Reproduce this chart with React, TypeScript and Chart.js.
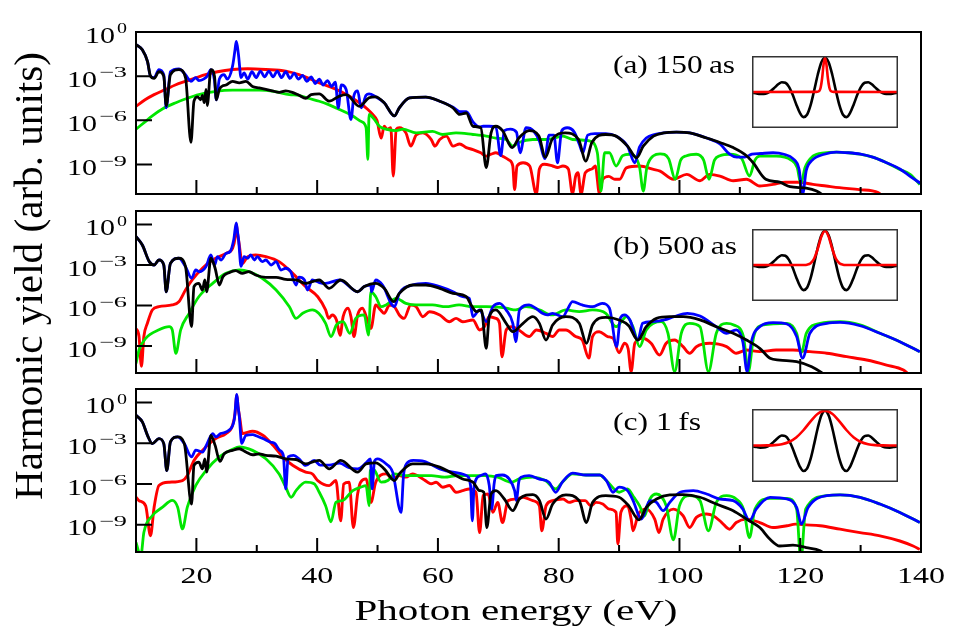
import React, { useEffect, useRef } from "react";
import { Chart, registerables } from "chart.js";
Chart.register(...registerables);

type P = [number, number];

// Photon energy (eV) vs log10(harmonic yield)
const X_MINOR_TICKS = [20, 30, 40, 50, 60, 70, 80, 90, 100, 110, 120, 130];
const X_LABELS = [20, 40, 60, 80, 100, 120, 140];
const Y_TICK_EXP = [0, -3, -6, -9];

// ---------- panel (a) 150 as ----------
const A_BLACK: P[] = [[10,-0.86],[11.05,-1.2],[11.9,-2.0],[12.4,-3.0],[13.0,-3.15],[13.8,-2.7],[14.6,-3.0],[15.0,-5.0],[15.7,-2.9],[17.1,-2.55],[18.2,-3.1],[19.1,-7.5],[19.6,-4.7],[20.2,-4.4],[20.7,-4.6],[21.0,-4.3],[21.3,-4.8],[21.6,-3.9],[21.8,-5.0],[22.4,-2.55],[23.0,-3.0],[23.3,-4.6],[23.8,-3.9],[24.2,-3.7],[24.9,-3.6],[26.0,-3.35],[27.1,-3.45],[28.2,-3.35],[29.3,-3.7],[30.4,-3.8],[31.5,-3.9],[32.6,-4.0],[33.7,-4.1],[34.8,-4.0],[35.9,-4.1],[37.0,-4.3],[38.1,-4.5],[39.0,-4.25],[40.35,-4.2],[42.0,-4.7],[43.7,-4.35],[44.8,-4.25],[47.0,-5.05],[48.6,-4.47],[49.7,-4.4],[51.1,-4.8],[52.8,-5.7],[53.6,-5.15],[55.3,-4.47],[58.0,-4.42],[60.3,-4.7],[62.5,-5.15],[63.6,-5.6],[64.7,-5.5],[65.8,-6.4],[67.1,-6.5],[68.0,-9.2],[68.8,-6.85],[69.6,-6.4],[70.7,-6.7],[72.3,-7.85],[73.4,-7.2],[75.1,-6.7],[76.7,-7.05],[77.8,-8.5],[78.9,-7.3],[81.1,-6.85],[83.3,-7.3],[84.5,-8.77],[85.5,-7.5],[87.8,-6.96],[89.5,-7.07],[91.4,-7.75],[92.9,-8.54],[94.0,-7.75],[95.7,-7.07],[97.4,-6.85],[99.5,-6.8],[101.7,-6.85],[104.5,-7.2],[106.7,-7.5],[108.9,-7.85],[111.1,-8.4],[112.2,-8.88],[114.3,-10.0],[116.6,-10.2],[118.3,-10.5],[121,-10.6],[122.7,-10.8],[124.5,-11.3]];
const A_BLUE: P[] = [[10,-0.86],[11.05,-1.2],[11.9,-2.0],[12.4,-3.0],[13.0,-3.1],[13.8,-2.55],[14.6,-2.9],[15.0,-5.15],[15.7,-2.7],[17.1,-2.5],[18.2,-2.9],[19.1,-3.35],[19.9,-3.1],[20.4,-3.3],[21.2,-3.2],[21.8,-3.0],[22.4,-2.55],[23.0,-3.3],[23.3,-4.6],[23.8,-3.2],[24.6,-2.9],[25.1,-3.2],[26.0,-2.3],[26.4,-1.2],[26.6,-0.63],[26.8,-1.0],[27.0,-1.65],[27.4,-3.1],[27.9,-2.78],[28.5,-3.2],[29.2,-2.7],[29.9,-3.1],[30.6,-2.65],[31.3,-3.05],[32.0,-2.65],[32.7,-3.05],[33.4,-2.65],[34.1,-3.1],[34.8,-2.7],[35.5,-3.15],[36.2,-2.8],[36.9,-3.2],[37.6,-2.95],[38.3,-3.35],[39.0,-3.05],[39.7,-3.5],[40.35,-3.2],[41.0,-3.6],[41.7,-3.3],[42.4,-3.7],[43.0,-3.4],[43.5,-5.15],[44.0,-3.6],[44.8,-3.9],[45.6,-5.94],[46.1,-4.3],[46.7,-4.0],[47.3,-5.15],[48.1,-4.3],[48.6,-4.2],[49.7,-4.4],[51.1,-4.8],[52.8,-5.7],[53.6,-5.15],[55.3,-4.47],[58.0,-4.42],[60.3,-4.7],[62.5,-5.1],[63.6,-5.4],[64.7,-5.4],[65.8,-6.1],[66.9,-6.45],[67.5,-6.4],[68.5,-6.4],[69.6,-6.45],[70.4,-8.4],[71.0,-6.7],[72.0,-6.6],[73.0,-6.8],[73.6,-8.2],[74.6,-6.5],[75.8,-6.7],[76.8,-7.4],[77.7,-8.6],[78.4,-7.0],[79.2,-7.0],[79.8,-8.88],[80.5,-6.7],[81.4,-6.5],[82.6,-6.8],[83.4,-7.6],[84.0,-8.2],[84.8,-7.0],[86.0,-6.9],[87.8,-6.9],[89.5,-7.07],[91.4,-7.75],[92.6,-8.88],[93.4,-7.8],[94.5,-7.2],[96.0,-6.95],[97.4,-6.85],[99.5,-6.8],[101.7,-6.85],[104.5,-7.2],[106.7,-7.6],[108.3,-8.3],[109.5,-8.5],[110.8,-8.5],[112.0,-8.3],[113.5,-8.25],[115.5,-8.2],[117.3,-8.3],[118.8,-8.6],[119.8,-9.3],[120.4,-11.0],[121.0,-9.4],[122.0,-8.7],[124.0,-8.3],[126.0,-8.15],[128.0,-8.2],[130.0,-8.3],[132.0,-8.5],[134.3,-8.88],[136.5,-9.3],[138.2,-9.8],[140,-10.3]];
const A_GREEN: P[] = [[10,-6.6],[11.5,-6.1],[12.7,-5.7],[14.5,-5.2],[16.6,-4.8],[18.5,-4.5],[20.4,-4.25],[23,-4.05],[26,-3.95],[30.4,-3.95],[33,-4.05],[35.4,-4.25],[37.0,-4.3],[38.5,-4.5],[40.35,-4.7],[42,-4.95],[43.7,-5.26],[45.9,-5.7],[47.4,-6.1],[48.1,-6.5],[48.4,-8.65],[48.6,-5.6],[49.4,-5.9],[50.3,-6.4],[51.4,-6.6],[53.1,-6.7],[54.2,-6.6],[56.4,-6.85],[59.1,-6.75],[60.8,-6.96],[63.0,-6.85],[65.8,-6.96],[68.0,-7.07],[69.6,-7.2],[71.3,-7.3],[72.4,-7.75],[73.4,-7.5],[75.7,-7.3],[78,-7.3],[80.7,-7.07],[82.3,-7.3],[85.1,-7.4],[86.4,-8.2],[87.0,-10.8],[87.6,-8.2],[88.4,-8.2],[89.5,-9.1],[90.6,-8.4],[91.7,-8.3],[92.5,-8.4],[93.4,-9.2],[94.0,-10.8],[94.6,-9.2],[95.7,-8.4],[96.8,-8.27],[98.2,-8.6],[99.3,-10.0],[100.2,-8.7],[101.2,-8.4],[102.8,-8.3],[104.0,-8.7],[104.9,-10.0],[105.8,-8.7],[106.7,-8.4],[108.3,-8.3],[110.3,-8.6],[111.6,-9.78],[112.5,-8.7],[113.3,-8.43],[116,-8.43],[118.5,-8.7],[119.5,-9.2],[120.1,-10.3],[120.8,-9.2],[122.1,-8.43],[124,-8.2],[126,-8.16],[128,-8.2],[129.9,-8.3],[132,-8.5],[134.3,-8.88],[136.3,-9.3],[138.2,-9.67],[139.8,-10.35]];
const A_RED: P[] = [[10,-5.05],[11.5,-4.6],[13,-4.25],[14.9,-3.9],[16.5,-3.6],[18.2,-3.35],[20,-3.1],[21.5,-2.9],[23.5,-2.7],[26,-2.55],[28.5,-2.5],[31.5,-2.55],[34.8,-2.66],[37,-2.9],[40.35,-3.45],[43.7,-4.0],[47.0,-4.8],[48.4,-5.26],[49.2,-5.6],[49.9,-6.0],[50.6,-7.2],[51.1,-6.4],[51.6,-6.6],[52.2,-6.5],[52.6,-9.78],[53.1,-6.6],[53.6,-6.5],[54.7,-6.85],[55.5,-7.75],[56.4,-7.0],[57.5,-6.85],[58.9,-7.3],[59.5,-7.75],[60.3,-7.3],[61.4,-7.07],[62.5,-7.75],[63.6,-7.6],[64.7,-7.85],[65.8,-7.98],[67.1,-8.2],[68.0,-8.43],[68.8,-8.3],[69.6,-8.2],[70.7,-8.43],[71.8,-8.7],[72.4,-9.1],[72.7,-10.7],[73.1,-9.1],[74.1,-8.88],[75.2,-9.1],[76.3,-11.0],[76.8,-9.3],[77.6,-8.98],[79.0,-9.1],[79.8,-9.2],[80.7,-9.1],[81.6,-9.3],[82.3,-11.0],[82.8,-9.8],[83.2,-9.56],[83.7,-11.0],[84.4,-9.56],[85.5,-9.3],[86.1,-9.1],[86.4,-10.0],[86.7,-11.0],[87.3,-10.0],[88.3,-9.8],[89.3,-10.0],[90.1,-10.0],[91.2,-9.22],[93.4,-9.1],[95.7,-9.33],[96.8,-9.45],[99,-10.0],[101.2,-9.67],[103.4,-10.1],[105.0,-9.67],[106.7,-9.78],[108.9,-10.1],[111.1,-10.0],[113.3,-10.46],[115.5,-10.35],[117.6,-10.2],[119.8,-10.2],[122.1,-10.35],[124.3,-10.46],[126.5,-10.57],[129.8,-10.7],[132.9,-10.9],[134,-11.3]];

// ---------- panel (b) 500 as ----------
const B_BLACK: P[] = [[10,-0.9],[11.05,-1.52],[12.2,-2.75],[13.0,-3.0],[13.8,-2.63],[14.6,-3.0],[15.0,-4.98],[15.7,-2.88],[17.1,-2.5],[18.2,-3.12],[19.2,-7.57],[19.6,-4.6],[20.4,-4.36],[21.0,-4.85],[21.4,-4.11],[21.7,-4.98],[22.4,-2.5],[23.1,-3.24],[23.8,-4.48],[24.4,-3.86],[25.4,-3.57],[26.5,-3.42],[27.6,-3.62],[28.7,-3.49],[29.8,-3.74],[31.5,-3.91],[33.2,-3.91],[34.8,-4.06],[36.5,-4.11],[38.1,-4.36],[39.2,-4.23],[40.35,-4.11],[42.0,-4.73],[43.9,-4.11],[46.7,-4.98],[47.8,-4.6],[49.7,-4.36],[51.1,-4.73],[52.7,-5.72],[53.6,-5.1],[55.8,-4.48],[58.0,-4.48],[60.3,-4.73],[62.5,-5.1],[64.7,-5.35],[65.5,-5.96],[66.4,-6.46],[67.2,-6.33],[68.0,-9.17],[68.5,-6.83],[69.6,-6.33],[71.3,-7.32],[72.4,-7.94],[74.1,-7.32],[75.7,-6.83],[76.8,-7.32],[77.9,-8.56],[79.0,-7.44],[81.2,-6.83],[83.4,-7.32],[84.6,-8.8],[85.6,-7.44],[87.8,-6.88],[90.0,-7.07],[91.6,-7.5],[93.1,-8.56],[94.5,-7.57],[96.2,-6.95],[98.4,-6.83],[100.6,-6.83],[103.4,-7.07],[106.1,-7.57],[108.9,-8.06],[111.1,-8.56],[113.3,-9.17],[115.0,-9.91],[116.6,-10.04],[119.4,-10.16],[121.9,-10.53],[123.3,-10.9],[124.5,-11.3]];
const B_BLUE: P[] = [[10,-0.9],[11.05,-1.52],[12.2,-2.75],[13.0,-3.0],[13.8,-2.63],[14.6,-3.0],[15.0,-4.98],[15.7,-2.88],[17.1,-2.5],[18.2,-3.12],[19.2,-3.98],[19.9,-3.37],[20.5,-3.5],[21.6,-3.12],[22.4,-2.26],[23.0,-3.0],[23.5,-2.38],[24.1,-2.63],[24.9,-2.14],[25.6,-2.0],[26.2,-1.1],[26.6,0.12],[26.8,-0.5],[27.0,-1.2],[27.4,-3.1],[27.9,-2.38],[28.5,-2.5],[29.0,-2.26],[29.6,-2.63],[30.1,-2.38],[30.9,-2.75],[31.5,-2.63],[32.4,-3.0],[33.2,-2.75],[34.0,-3.37],[34.8,-3.24],[35.6,-3.49],[36.5,-4.48],[37.0,-3.9],[37.9,-4.11],[38.4,-4.85],[39.2,-4.11],[40.35,-4.3],[41.4,-4.36],[43.7,-4.11],[46.7,-4.98],[47.8,-4.6],[48.9,-4.48],[49.0,-4.98],[49.7,-4.11],[50.8,-4.48],[52.8,-6.09],[53.6,-5.1],[55.8,-4.48],[58.0,-4.36],[60.3,-4.6],[62.5,-4.98],[64.1,-5.35],[65.2,-5.47],[65.8,-6.83],[66.9,-6.33],[68.0,-7.2],[69.1,-6.09],[70.2,-5.84],[71.3,-6.33],[72.4,-7.32],[72.9,-8.68],[73.5,-6.33],[75.1,-5.96],[76.2,-6.2],[77.3,-6.58],[78.1,-6.7],[79.0,-6.58],[80.7,-6.83],[81.4,-6.33],[82.3,-5.72],[83.9,-5.96],[85.6,-6.09],[87.2,-5.84],[88.4,-6.2],[89.6,-9.05],[90.2,-6.95],[90.9,-6.7],[91.8,-7.07],[93.1,-8.56],[93.9,-7.32],[95.5,-7.2],[97.5,-7.07],[99.1,-6.83],[101.3,-6.58],[103.4,-6.78],[106.1,-7.57],[107.8,-8.06],[109.4,-7.8],[110.5,-8.7],[111.2,-10.9],[111.9,-8.7],[113.3,-7.57],[115.5,-7.27],[117.8,-7.37],[119.4,-8.3],[120.4,-9.9],[121.6,-8.06],[124.4,-7.32],[126.6,-7.25],[129.9,-7.5],[133.2,-8.06],[136.5,-8.68],[139.8,-9.42]];
const B_GREEN: P[] = [[10,-10.3],[10.5,-9.3],[11.6,-8.43],[13.8,-7.8],[15.5,-7.57],[16.0,-7.8],[16.6,-9.54],[17.4,-7.8],[18.8,-6.58],[20.4,-5.35],[22.7,-4.36],[24.9,-3.62],[27.1,-3.37],[28.7,-3.49],[30.9,-3.98],[33.2,-4.85],[35.4,-6.09],[36.5,-6.95],[37.6,-6.58],[39.2,-6.33],[40.3,-6.6],[41.4,-7.32],[42.3,-8.3],[43.2,-7.44],[44.3,-7.2],[45.4,-8.06],[46.4,-6.95],[47.8,-6.7],[48.5,-8.2],[48.9,-4.98],[49.7,-5.35],[50.6,-6.09],[51.4,-5.96],[53.1,-5.47],[54.7,-5.84],[56.4,-5.96],[59.1,-5.96],[61.3,-6.09],[63.5,-5.96],[65.8,-6.09],[68.0,-6.09],[71.3,-6.2],[72.9,-6.33],[74.6,-6.09],[76.8,-6.33],[78.9,-6.7],[81.2,-6.33],[83.4,-6.45],[85.6,-6.33],[87.8,-6.58],[89.5,-7.57],[90.6,-7.07],[91.2,-6.83],[92.3,-7.57],[93.4,-9.05],[94.5,-7.81],[95.7,-7.32],[97.0,-7.2],[98.1,-8.06],[99.2,-10.9],[100.3,-8.06],[101.7,-7.32],[103.4,-7.57],[104.8,-10.9],[106.1,-8.06],[107.8,-7.32],[109.0,-7.44],[110.6,-8.3],[111.4,-10.9],[112.3,-8.3],[113.9,-7.44],[117.8,-7.32],[119.4,-8.06],[120.2,-9.5],[121.0,-8.06],[123.3,-7.32],[126.6,-7.2],[129.9,-7.44],[133.2,-8.06],[136.5,-8.68],[139.8,-9.42]];
const B_RED: P[] = [[10,-7.7],[10.5,-8.3],[10.9,-10.5],[11.3,-8.3],[11.9,-7.3],[12.7,-6.33],[13.8,-6.09],[16.0,-5.96],[17.1,-5.72],[18.2,-4.85],[19.3,-4.11],[21.0,-3.24],[22.7,-2.63],[24.9,-2.14],[26.0,-1.75],[26.4,-1.0],[26.6,0.05],[26.8,-0.6],[27.1,-1.5],[27.6,-2.88],[28.5,-2.38],[29.8,-2.26],[31.5,-2.38],[33.7,-2.75],[35.9,-3.6],[38.1,-4.6],[40.1,-5.35],[41.4,-6.33],[41.9,-6.95],[42.5,-6.7],[43.2,-7.07],[43.8,-8.2],[44.3,-6.83],[45.1,-6.2],[45.6,-6.83],[46.1,-8.3],[46.7,-6.7],[47.5,-6.2],[48.4,-7.2],[48.9,-7.7],[49.7,-5.96],[50.5,-6.33],[51.1,-6.58],[52.0,-5.96],[52.8,-6.09],[53.6,-6.7],[54.4,-6.95],[55.5,-5.96],[56.4,-6.09],[57.5,-6.83],[58.6,-6.46],[60.3,-6.7],[61.9,-7.2],[63.0,-6.95],[64.1,-7.2],[65.8,-7.07],[66.9,-7.81],[67.7,-7.57],[68.5,-6.83],[69.6,-6.95],[70.2,-7.32],[70.6,-9.8],[71.3,-7.81],[72.2,-7.57],[73.4,-7.81],[75.1,-8.3],[76.3,-7.81],[77.9,-8.06],[79.0,-8.3],[80.1,-7.81],[81.2,-7.81],[82.8,-8.3],[83.9,-8.56],[85.0,-9.9],[85.6,-8.3],[86.7,-7.94],[88.1,-8.3],[89.0,-8.43],[90.0,-9.5],[90.9,-8.8],[91.5,-9.2],[92.0,-10.9],[92.6,-8.8],[93.9,-8.43],[95.3,-8.8],[96.7,-9.67],[97.8,-8.8],[99.2,-8.56],[100.6,-9.05],[101.7,-9.54],[102.8,-9.05],[105.0,-8.8],[107.8,-9.05],[109.4,-9.54],[111.1,-9.3],[113.3,-9.42],[116.0,-9.3],[118.8,-9.3],[121.6,-9.42],[124.4,-9.54],[127.7,-9.79],[131.0,-10.04],[134.3,-10.41],[137.1,-10.78],[138.2,-11.15],[139.5,-11.3]];

// ---------- panel (c) 1 fs ----------
const C_BLACK: P[] = [[10,-0.93],[11.05,-1.42],[11.9,-2.41],[12.7,-3.02],[13.8,-2.65],[14.6,-3.02],[15.1,-5.0],[15.7,-2.9],[16.9,-2.53],[18.0,-3.02],[19.2,-7.47],[19.6,-4.63],[20.4,-4.38],[21.0,-4.88],[21.4,-4.14],[21.7,-5.12],[22.4,-2.41],[23.1,-3.15],[23.9,-4.33],[24.6,-3.77],[26.0,-3.52],[27.1,-3.4],[28.2,-3.64],[29.3,-3.84],[30.4,-3.77],[31.5,-3.89],[33.2,-3.94],[34.8,-4.14],[36.5,-4.19],[38.1,-4.51],[39.5,-4.33],[40.35,-4.26],[42.0,-4.88],[43.9,-4.26],[46.7,-5.12],[48.1,-4.51],[49.7,-4.44],[51.1,-4.88],[52.8,-5.74],[53.6,-5.25],[55.8,-4.51],[58.0,-4.51],[60.3,-4.75],[62.5,-5.25],[64.1,-5.62],[65.8,-5.86],[66.9,-6.48],[67.6,-6.6],[68.1,-9.2],[68.8,-6.73],[69.6,-6.48],[71.0,-7.1],[72.4,-7.96],[73.5,-7.1],[75.7,-6.78],[76.8,-7.2],[77.9,-8.58],[79.0,-7.47],[81.2,-6.8],[83.4,-7.22],[84.6,-8.83],[85.6,-7.35],[87.8,-6.85],[90.0,-6.97],[91.6,-7.6],[93.3,-8.63],[94.5,-7.72],[96.2,-7.1],[98.4,-6.8],[100.6,-6.78],[103.4,-6.97],[106.1,-7.47],[108.9,-7.96],[111.1,-8.58],[113.3,-9.2],[115.0,-10.06],[116.6,-10.56],[118.8,-10.5],[121.0,-10.68],[123.3,-10.9],[124.5,-11.3]];
const C_BLUE: P[] = [[10,-0.93],[11.05,-1.42],[11.9,-2.41],[12.7,-3.02],[13.8,-2.65],[14.6,-3.02],[15.1,-5.0],[15.7,-2.9],[16.9,-2.53],[18.0,-3.02],[19.2,-4.0],[19.9,-3.5],[21.0,-3.64],[21.8,-3.0],[22.7,-2.28],[23.2,-2.53],[24.0,-2.28],[25.4,-2.04],[26.3,-1.17],[26.7,0.6],[26.9,-0.3],[27.1,-1.0],[27.5,-3.0],[28.2,-2.41],[29.3,-2.36],[30.1,-2.48],[31.0,-2.65],[32.2,-2.9],[33.0,-3.02],[33.8,-3.52],[34.4,-3.89],[34.8,-6.36],[35.2,-4.0],[36.1,-3.89],[37.0,-4.14],[38.1,-4.63],[39.5,-4.26],[40.5,-4.6],[42.0,-4.6],[43.7,-4.45],[45.3,-4.8],[46.7,-4.88],[48.1,-4.44],[48.8,-4.14],[49.1,-6.36],[49.5,-4.3],[50.0,-4.14],[51.4,-4.51],[52.5,-5.12],[53.9,-8.08],[54.3,-5.37],[54.8,-4.51],[55.9,-4.26],[57.7,-4.33],[60.3,-4.88],[62.5,-5.12],[64.7,-5.37],[65.4,-6.1],[65.7,-8.7],[66.0,-6.1],[67.1,-5.37],[67.9,-5.25],[68.5,-6.1],[68.9,-7.84],[69.3,-6.0],[69.6,-5.37],[70.7,-5.33],[71.8,-5.62],[72.7,-6.48],[73.0,-7.22],[73.4,-5.8],[73.8,-5.49],[75.1,-5.37],[76.7,-5.62],[78.4,-5.86],[79.5,-6.6],[80.6,-5.86],[82.3,-5.2],[84.5,-5.33],[86.8,-5.33],[87.9,-5.74],[89.0,-6.6],[90.0,-6.23],[91.4,-6.48],[92.3,-7.2],[93.7,-8.58],[95.1,-7.22],[96.2,-7.35],[97.3,-7.96],[98.4,-7.35],[100.1,-6.6],[102.3,-6.48],[104.5,-6.73],[106.7,-7.1],[108.9,-7.22],[110.5,-7.84],[111.6,-8.7],[112.7,-7.84],[115.0,-6.98],[117.8,-7.1],[119.4,-7.72],[120.2,-8.95],[121.3,-7.72],[124.4,-6.85],[126.6,-6.8],[129.9,-6.98],[133.2,-7.47],[136.5,-8.09],[139.8,-8.83]];
const C_GREEN: P[] = [[10,-10.3],[10.8,-11.3],[11.3,-9.57],[12.7,-8.33],[14.4,-7.7],[16.0,-7.2],[16.9,-7.7],[17.7,-9.3],[18.5,-7.7],[19.9,-6.1],[21.6,-5.0],[23.8,-4.0],[26.0,-3.44],[27.1,-3.27],[29.3,-3.52],[31.5,-4.14],[33.7,-5.25],[34.8,-6.23],[35.7,-6.97],[36.5,-6.48],[38.1,-5.86],[39.5,-5.98],[40.35,-6.6],[41.4,-7.59],[42.3,-8.78],[43.1,-7.35],[44.2,-7.22],[45.9,-6.48],[47.2,-6.23],[48.1,-6.11],[48.6,-7.6],[48.8,-5.0],[49.3,-4.88],[50.6,-5.86],[51.7,-5.74],[52.8,-5.25],[54.5,-5.37],[56.2,-5.37],[58.9,-5.37],[61.1,-5.49],[63.3,-5.37],[65.5,-5.37],[67.7,-5.37],[69.9,-5.49],[72.1,-5.86],[73.5,-5.62],[75.7,-5.49],[77.8,-5.74],[79.5,-6.36],[80.6,-5.86],[82.3,-5.25],[84.5,-5.33],[86.8,-5.33],[87.9,-5.74],[90.0,-6.6],[91.4,-6.36],[92.5,-7.0],[93.4,-7.6],[94.2,-8.35],[95.1,-7.1],[96.2,-6.73],[97.8,-7.6],[99.0,-10.1],[100.0,-7.6],[101.7,-6.85],[103.4,-7.22],[104.8,-9.44],[106.1,-7.35],[107.8,-6.85],[109.4,-7.1],[110.6,-7.84],[111.6,-9.94],[112.5,-7.84],[115.0,-7.05],[117.8,-7.05],[119.4,-7.84],[120.1,-11.67],[120.9,-7.84],[124.4,-6.85],[126.6,-6.8],[129.9,-6.98],[133.2,-7.47],[136.5,-8.09],[139.8,-8.83]];
const C_RED: P[] = [[10,-6.97],[10.5,-7.22],[11.6,-7.6],[12.4,-9.8],[13.0,-7.7],[13.8,-6.1],[15.5,-5.86],[17.7,-5.74],[18.5,-5.37],[19.6,-4.26],[21.0,-3.52],[23.2,-2.65],[24.9,-2.28],[26.0,-1.67],[26.4,-0.8],[26.7,0.55],[26.9,-0.3],[27.2,-1.17],[27.6,-2.28],[29.3,-2.11],[31.0,-2.41],[32.7,-3.15],[34.3,-4.0],[36.0,-4.63],[38.1,-5.12],[39.2,-5.25],[40.1,-5.74],[42.0,-6.11],[43.1,-5.74],[43.9,-8.7],[44.4,-6.0],[45.3,-5.86],[46.0,-9.2],[46.7,-6.73],[47.2,-5.86],[48.1,-5.62],[48.9,-7.35],[49.7,-5.86],[51.4,-5.25],[52.5,-5.62],[53.6,-5.37],[54.7,-5.49],[55.8,-5.25],[57.5,-5.62],[58.3,-5.86],[58.9,-5.98],[59.7,-5.86],[60.8,-6.23],[61.9,-6.1],[63.0,-6.6],[64.1,-6.48],[65.2,-6.36],[66.3,-6.6],[66.9,-9.57],[67.5,-6.85],[68.3,-6.73],[69.1,-8.08],[69.9,-7.35],[70.7,-8.83],[71.6,-7.22],[72.9,-7.1],[74.1,-6.97],[75.7,-7.22],[76.8,-7.6],[77.2,-9.44],[77.9,-7.6],[79.0,-7.22],[80.7,-7.1],[81.7,-7.35],[82.8,-7.22],[84.4,-7.22],[85.3,-7.6],[86.2,-7.35],[87.3,-7.47],[88.4,-7.84],[89.5,-8.08],[89.8,-10.4],[90.3,-8.08],[91.4,-7.6],[92.0,-8.58],[92.3,-9.44],[93.2,-8.2],[94.5,-7.84],[95.9,-8.58],[96.6,-9.57],[97.3,-8.58],[99.0,-7.84],[100.6,-8.33],[101.7,-9.2],[102.8,-8.45],[104.5,-8.2],[105.6,-8.33],[107.0,-8.83],[108.3,-9.32],[109.4,-8.83],[111.1,-8.58],[113.3,-8.83],[115.5,-9.2],[117.8,-9.07],[119.2,-8.95],[121.0,-9.0],[123.3,-9.07],[126.6,-9.32],[129.9,-9.57],[133.2,-9.81],[136.5,-10.19],[138.7,-10.56],[139.8,-10.8]];

// ---------- insets (time axis, normalized field) ----------
const INSET_T = [-1,-0.95,-0.9,-0.85,-0.8,-0.75,-0.7,-0.65,-0.6,-0.55,-0.5,-0.45,-0.4,-0.35,-0.3,-0.25,-0.2,-0.15,-0.1,-0.05,0,0.05,0.1,0.15,0.2,0.25,0.3,0.35,0.4,0.45,0.5,0.55,0.6,0.65,0.7,0.75,0.8,0.85,0.9,0.95,1];
const INSET_BLACK = [-0.025,-0.045,-0.06,-0.058,-0.028,0.037,0.128,0.224,0.286,0.27,0.149,-0.076,-0.354,-0.604,-0.731,-0.663,-0.384,0.047,0.511,0.867,1,0.867,0.511,0.047,-0.384,-0.663,-0.731,-0.604,-0.354,-0.076,0.149,0.27,0.286,0.224,0.128,0.037,-0.028,-0.058,-0.06,-0.045,-0.025];
const INSET_RED_A: P[] = [[-1,0],[-0.12,0.003],[-0.08,0.027],[-0.06,0.13],[-0.04,0.4],[-0.02,0.8],[0,1],[0.02,0.8],[0.04,0.4],[0.06,0.13],[0.08,0.027],[0.12,0.003],[1,0]];
const INSET_RED_B: P[] = [[-1,0],[-0.35,0.0002],[-0.3,0.0012],[-0.25,0.0096],[-0.2,0.051],[-0.15,0.188],[-0.1,0.476],[-0.05,0.83],[0,1],[0.05,0.83],[0.1,0.476],[0.15,0.188],[0.2,0.051],[0.25,0.0096],[0.3,0.0012],[0.35,0.0002],[1,0]];
const INSET_RED_C: P[] = [[-1,0.0005],[-0.9,0.0006],[-0.8,0.0028],[-0.7,0.011],[-0.6,0.037],[-0.5,0.1],[-0.4,0.23],[-0.3,0.438],[-0.2,0.693],[-0.1,0.912],[0,1],[0.1,0.912],[0.2,0.693],[0.3,0.438],[0.4,0.23],[0.5,0.1],[0.6,0.037],[0.7,0.011],[0.8,0.0028],[0.9,0.0006],[1,0.0005]];

const COLORS = ["#000000", "#0000ff", "#00e600", "#ff0000"];
const FONT = '"Liberation Serif", "DejaVu Serif", serif';

function fitText(ctx: CanvasRenderingContext2D, text: string, x: number, y: number, size: number, width: number, align: "left" | "right" | "center") {
  ctx.font = `${size}px ${FONT}`;
  const w = ctx.measureText(text).width;
  const s = width / w;
  ctx.save();
  ctx.translate(x, y);
  ctx.scale(s, 1);
  ctx.textAlign = "left";
  ctx.textBaseline = "alphabetic";
  const off = align === "right" ? -w : align === "center" ? -w / 2 : 0;
  ctx.fillText(text, off, 0);
  ctx.restore();
}

type Panel = {
  top: number; height: number; padTop: number; padBottom: number; yMax: number;
  series: P[][]; label: string; labelX: number; labelY: number; labelW: number; isBottom: boolean;
};

const PANELS: Panel[] = [
  { top: 0, height: 200, padTop: 32, padBottom: 6, yMax: 1, series: [A_BLACK, A_BLUE, A_GREEN, A_RED], label: "(a) 150\u2009as", labelX: 613, labelY: 73, labelW: 122, isBottom: false },
  { top: 200, height: 180, padTop: 11, padBottom: 7, yMax: 10, series: [B_BLACK, B_BLUE, B_GREEN, B_RED], label: "(b) 500\u2009as", labelX: 613, labelY: 254, labelW: 124, isBottom: false },
  { top: 0, height: 640, padTop: 389, padBottom: 88, yMax: 10, series: [C_BLACK, C_BLUE, C_GREEN, C_RED], label: "(c) 1\u2009fs", labelX: 613, labelY: 430, labelW: 88, isBottom: true },
];

function decoPlugin(p: Panel) {
  return {
    id: "deco",
    afterDraw(chart: any) {
      const { ctx, chartArea: ca, scales } = chart;
      const xs = scales.x, ys = scales.y;
      ctx.save();
      ctx.strokeStyle = "#000";
      ctx.fillStyle = "#000";
      ctx.lineWidth = 2;
      ctx.strokeRect(ca.left, ca.top, ca.right - ca.left, ca.bottom - ca.top);
      ctx.beginPath();
      for (const ex of Y_TICK_EXP) {
        const py = ys.getPixelForValue(Math.pow(10, ex));
        ctx.moveTo(ca.left, py);
        ctx.lineTo(ca.left + 16, py);
      }
      for (const e of X_MINOR_TICKS) {
        const px = xs.getPixelForValue(e);
        const len = e % 20 === 0 ? 14 : 7;
        ctx.moveTo(px, ca.bottom);
        ctx.lineTo(px, ca.bottom - len);
      }
      ctx.stroke();
      // y tick labels 10^n
      for (const ex of Y_TICK_EXP) {
        const py = ys.getPixelForValue(Math.pow(10, ex));
        const expStr = ex === 0 ? "0" : "\u2212" + String(-ex);
        const expW = ex === 0 ? 10 : 28;
        const right = 127;
        fitText(ctx, expStr, right, py + 1, 15, expW, "right");
        fitText(ctx, "10", right - expW - 2, py + 10.5, 23, 30, "right");
      }
      // panel label
      fitText(ctx, p.label, p.labelX, p.labelY - p.top, 25, p.labelW, "left");
      if (p.isBottom) {
        for (const e of X_LABELS) {
          const px = xs.getPixelForValue(e);
          const s = String(e);
          fitText(ctx, s, px, 583, 24, 16 * s.length, "center");
        }
        fitText(ctx, "Photon energy (eV)", 516, 620, 30, 323, "center");
        ctx.save();
        ctx.translate(42, 276);
        ctx.rotate(-Math.PI / 2);
        fitText(ctx, "Harmonic yield (arb. units)", 0, 0, 40, 448, "center");
        ctx.restore();
      }
      ctx.restore();
    },
  };
}

function spectrumConfig(p: Panel): any {
  return {
    type: "line",
    data: {
      datasets: p.series.map((s, i) => ({
        data: s.map(([e, l]) => ({ x: e, y: Math.pow(10, l) })),
        borderColor: COLORS[i],
        borderWidth: i === 3 ? 2.9 : 2.8,
        pointRadius: 0,
        fill: false,
        cubicInterpolationMode: "monotone",
      })),
    },
    options: {
      responsive: false,
      animation: false,
      devicePixelRatio: 1,
      events: [],
      layout: { padding: { left: 136, right: 40, top: p.padTop, bottom: p.padBottom } },
      plugins: { legend: { display: false }, tooltip: { enabled: false } },
      scales: {
        x: { type: "linear", min: 10, max: 140, display: false },
        y: { type: "logarithmic", min: 1e-11, max: p.yMax, display: false },
      },
    },
    plugins: [decoPlugin(p)],
  };
}

const insetPlugin = {
  id: "insetFrame",
  beforeDraw(chart: any) {
    const { ctx, width, height } = chart;
    ctx.save();
    ctx.fillStyle = "#fff";
    ctx.fillRect(0, 0, width, height);
    ctx.restore();
  },
  afterDraw(chart: any) {
    const { ctx, width, height } = chart;
    ctx.save();
    ctx.strokeStyle = "#333";
    ctx.lineWidth = 1.5;
    ctx.strokeRect(0.75, 0.75, width - 1.5, height - 1.5);
    ctx.restore();
  },
};

function insetConfig(red: P[]): any {
  return {
    type: "line",
    data: {
      datasets: [
        { data: red.map(([x, y]) => ({ x, y })), borderColor: "#ff0000", borderWidth: 2.6, pointRadius: 0, cubicInterpolationMode: "monotone" },
        { data: INSET_T.map((t, i) => ({ x: t, y: INSET_BLACK[i] })), borderColor: "#000", borderWidth: 2.6, pointRadius: 0, cubicInterpolationMode: "monotone" },
      ],
    },
    options: {
      responsive: false,
      animation: false,
      devicePixelRatio: 1,
      events: [],
      layout: { padding: { left: 1, right: 1, top: 1, bottom: 1 } },
      plugins: { legend: { display: false }, tooltip: { enabled: false } },
      scales: {
        x: { type: "linear", min: -1, max: 1, display: false },
        y: { type: "linear", min: -1.02, max: 1.02, display: false },
      },
    },
    plugins: [insetPlugin],
  };
}

function ChartCanvas({ make, left, top, width, height }: { make: () => any; left: number; top: number; width: number; height: number }) {
  const ref = useRef<HTMLCanvasElement>(null);
  useEffect(() => {
    const chart = new Chart(ref.current as HTMLCanvasElement, make());
    return () => chart.destroy();
  }, []);
  return <canvas ref={ref} width={width} height={height} style={{ position: "absolute", left, top, width, height, display: "block" }} />;
}

export default function App() {
  return (
    <div style={{ position: "absolute", left: 0, top: 0, width: 961, height: 640, background: "#fff" }}>
      <ChartCanvas make={() => spectrumConfig(PANELS[2])} left={0} top={0} width={961} height={640} />
      <ChartCanvas make={() => spectrumConfig(PANELS[0])} left={0} top={0} width={961} height={200} />
      <ChartCanvas make={() => spectrumConfig(PANELS[1])} left={0} top={200} width={961} height={180} />
      <ChartCanvas make={() => insetConfig(INSET_RED_A)} left={752} top={56} width={146} height={72} />
      <ChartCanvas make={() => insetConfig(INSET_RED_B)} left={752} top={229} width={146} height={72} />
      <ChartCanvas make={() => insetConfig(INSET_RED_C)} left={752} top={409} width={146} height={73} />
    </div>
  );
}
